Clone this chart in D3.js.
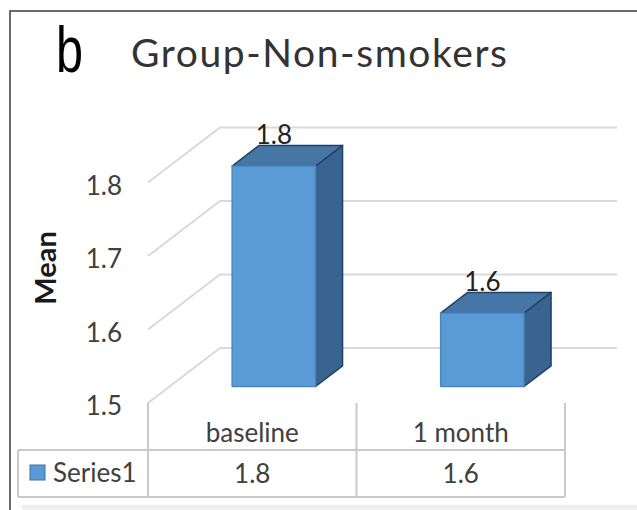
<!DOCTYPE html>
<html>
<head>
<meta charset="utf-8">
<script src="https://cdn.jsdelivr.net/npm/d3@7"></script>
<style>
  html, body { margin: 0; padding: 0; background: #fff; }
  svg { display: block; font-family: Lato, "Open Sans", sans-serif; }
</style>
</head>
<body>
<svg id="chart" width="637" height="510"></svg>
<script>
// Chart data
const categories = ["baseline", "1 month"];
const seriesName = "Series1";
const values = [1.8, 1.6];
const yTicks = [1.5, 1.6, 1.7, 1.8];
const yTickLabels = ["1.5", "1.6", "1.7", "1.8"];
const panelLetter = "b";
const title = "Group-Non-smokers";
const yTitle = "Mean";

const svg = d3.select("#chart");

// Oblique 3D projection: depth 0 = front edge of floor, 1 = back wall
const DX = 72, DY = 55;
const proj = (x, y, d) => [x + DX * d, y - DY * d];

const x = d3.scaleBand().domain(categories).range([148, 565]).paddingInner(0).paddingOuter(0);
const y = d3.scaleLinear().domain([1.5, 1.9]).range([403, 109]);
const wallRight = 617;

const gridColor = "#d9d9d9";
const textColor = "#404040";

// Frame
svg.append("rect").attr("x", 22).attr("y", 505).attr("width", 615).attr("height", 5).attr("fill", "#efefef");
svg.append("path").attr("d", "M10,510V11H637").attr("fill", "none").attr("stroke", "#3a3a3a").attr("stroke-width", 1.5);

// Panel letter and chart title
const letter = svg.append("text").attr("x", 56).attr("y", 72).attr("font-size", 64).attr("fill", "#000")
  .style("font-family", "'Liberation Sans Narrow', 'Liberation Sans', sans-serif")
  .text(panelLetter);
if (letter.node().getComputedTextLength() > 32) {
  letter.attr("textLength", 27).attr("lengthAdjust", "spacingAndGlyphs");
}
svg.append("text").attr("x", 131).attr("y", 67).attr("font-size", 39).attr("fill", "#333")
  .attr("textLength", 376).attr("lengthAdjust", "spacing")
  .text(title);

// Side wall and back wall gridlines
const grid = svg.append("g").attr("fill", "none").attr("stroke", gridColor).attr("stroke-width", 2);
yTicks.forEach(t => {
  const f = proj(x.range()[0], y(t), 0);
  const b = proj(x.range()[0], y(t), 1);
  grid.append("path").attr("d", `M${f[0]},${f[1]}L${b[0]},${b[1]}H${wallRight}`);
});

// Y tick labels
svg.append("g").selectAll("text").data(yTicks)
  .join("text")
  .attr("x", 122).attr("y", d => y(d) + 12)
  .attr("text-anchor", "end").attr("font-size", 26).attr("fill", textColor)
  .text((d, i) => yTickLabels[i]);

// Y axis title
svg.append("text").attr("transform", "translate(56,268) rotate(-90)")
  .attr("text-anchor", "middle").attr("font-size", 29).attr("font-weight", "bold").attr("fill", "#1a1a1a")
  .text(yTitle);

// 3D columns
const d0 = 0.3, d1 = 0.675;
const barW = x.bandwidth() * 0.4;
const bars = svg.append("g");
categories.forEach((c, i) => {
  const v = values[i];
  const xl = x(c) + (x.bandwidth() - barW) / 2;
  const xr = xl + barW;
  const yt = y(v), yb = y(1.5);
  const P = (px, py, d) => proj(px, py, d).join(",");
  const g = bars.append("g").attr("stroke-linejoin", "round");
  // right side face
  g.append("path")
    .attr("d", `M${P(xr, yt, d0)}L${P(xr, yt, d1)}L${P(xr, yb, d1)}L${P(xr, yb, d0)}Z`)
    .attr("fill", "#396490").attr("stroke", "#1f4267").attr("stroke-width", 1.5);
  // top face
  g.append("path")
    .attr("d", `M${P(xl, yt, d0)}L${P(xr, yt, d0)}L${P(xr, yt, d1)}L${P(xl, yt, d1)}Z`)
    .attr("fill", "#4676a6").attr("stroke", "#1f4267").attr("stroke-width", 1.5);
  // front face
  const fl = proj(xl, yt, d0), fb = proj(xr, yb, d0);
  g.append("rect")
    .attr("x", fl[0]).attr("y", fl[1]).attr("width", fb[0] - fl[0]).attr("height", fb[1] - fl[1])
    .attr("fill", "#5b9bd5").attr("stroke", "#4a86c0").attr("stroke-width", 1.5);
  // data label
  const lb = proj((xl + xr) / 2, yt, d1);
  svg.append("text")
    .attr("x", (fl[0] + fb[0]) / 2).attr("y", lb[1] - 1)
    .attr("text-anchor", "middle").attr("font-size", 26).attr("fill", "#222")
    .text(d3.format(".1f")(v));
});

// Data table under the category axis
const tableTop = 450, tableBottom = 497, tableLeft = 18;
const tbl = svg.append("g").attr("fill", "none").attr("stroke", "#c9c9c9").attr("stroke-width", 2);
const edges = [x.range()[0]].concat(categories.map(c => x(c) + x.bandwidth()));
edges.forEach(ex => tbl.append("path").attr("d", `M${ex},${y(1.5)}V${tableBottom}`));
tbl.append("path").attr("d", `M${tableLeft},${tableTop}H${x.range()[1]}M${tableLeft},${tableBottom}H${x.range()[1]}M${tableLeft},${tableTop}V${tableBottom}`);

svg.append("g").selectAll("text").data(categories).join("text")
  .attr("x", d => x(d) + x.bandwidth() / 2).attr("y", 442)
  .attr("text-anchor", "middle").attr("font-size", 26).attr("fill", textColor)
  .text(d => d);

svg.append("g").selectAll("text").data(values).join("text")
  .attr("x", (d, i) => x(categories[i]) + x.bandwidth() / 2).attr("y", 483)
  .attr("text-anchor", "middle").attr("font-size", 26).attr("fill", textColor)
  .text(d => d3.format(".1f")(d));

// Legend key in the table
svg.append("rect").attr("x", 30).attr("y", 465).attr("width", 15).attr("height", 15)
  .attr("fill", "#5b9bd5").attr("stroke", "#41719c").attr("stroke-width", 1);
svg.append("text").attr("x", 53).attr("y", 482).attr("font-size", 26).attr("fill", textColor)
  .text(seriesName);
</script>
</body>
</html>
